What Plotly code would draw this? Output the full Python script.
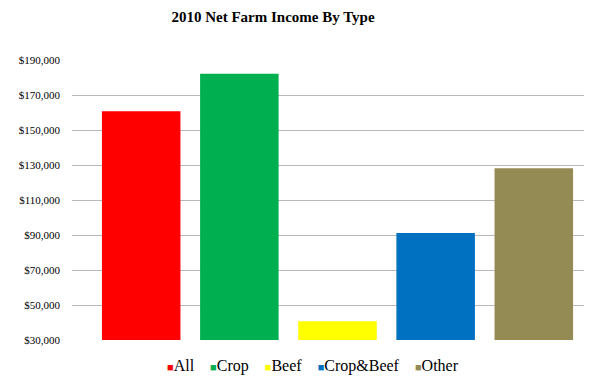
import plotly.graph_objects as go

categories = ["All", "Crop", "Beef", "Crop&Beef", "Other"]
values = [160700, 182200, 40700, 91100, 128200]
colors = ["#ff0000", "#00b050", "#ffff00", "#0070c0", "#948a54"]
tick_vals = [30000, 50000, 70000, 90000, 110000, 130000, 150000, 170000, 190000]
tick_text = ["$30,000", "$50,000", "$70,000", "$90,000", "$110,000", "$130,000",
             "$150,000", "$170,000", "$190,000"]

# page body has an 8px margin; figure coords = page coords - 8
W, H = 584, 369

fig = go.Figure()
for i, (c, v, col) in enumerate(zip(categories, values, colors)):
    fig.add_trace(go.Bar(x=[i], y=[v], name=c, marker_color=col,
                         marker_line_width=0, width=0.8, showlegend=False))

legend_html = "&nbsp;&nbsp;&nbsp;&nbsp;".join(
    f"<span style='color:{col};font-size:11px'>■</span>{c.replace('&', '&amp;')}"
    for c, col in zip(categories, colors))

fig.add_annotation(text=legend_html, xref="paper", yref="paper",
                   x=(305 - 64) / (W - 64), xanchor="center",
                   y=-(358 - 332) / 280, yanchor="middle", showarrow=False,
                   font=dict(family="Liberation Serif", size=16, color="#000000"))

fig.update_layout(
    width=W, height=H,
    margin=dict(l=64, r=0, t=52, b=37),
    paper_bgcolor="white", plot_bgcolor="white",
    barmode="overlay",
    title=dict(text="<b>2010 Net Farm Income By Type</b>", x=265 / W, xanchor="center",
               y=1 - 9 / H, yanchor="middle", xref="container", yref="container",
               font=dict(family="Liberation Serif", size=15, color="#000000")),
    showlegend=False,
    xaxis=dict(range=[-0.705, 4.593], showticklabels=False, showgrid=False,
               zeroline=False, showline=False),
    yaxis=dict(range=[30000, 190000], tickvals=tick_vals, ticktext=tick_text,
               showgrid=True, gridcolor="#b8b8b8", gridwidth=1, zeroline=False,
               ticklabelstandoff=11,
               tickfont=dict(family="Liberation Serif", size=11, color="#000000")),
)

fig.write_html("out.html",
               post_script="document.documentElement.style.overflow='hidden';"
                           "document.body.style.overflow='hidden';")
